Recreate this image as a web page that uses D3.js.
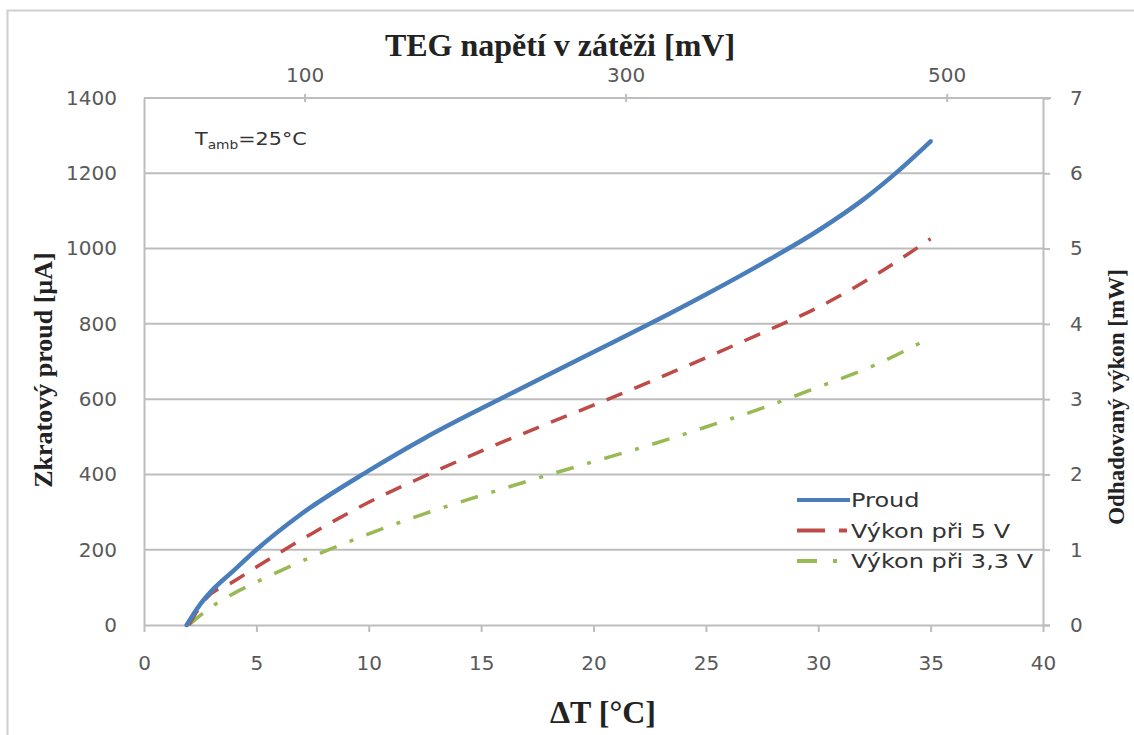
<!DOCTYPE html>
<html>
<head>
<meta charset="utf-8">
<script src="https://cdn.jsdelivr.net/npm/d3@7"></script>
<style>
    body { margin: 0; background: #fff; }
    .tick text { font-family: "DejaVu Sans", sans-serif; font-size: 20px; fill: #595959; }
    .axis-title { font-family: "Liberation Serif", "Times New Roman", serif; font-weight: bold; fill: #222; }
</style>
</head>
<body>
<div id="chart"></div>
<script>
/** * Data * * **/
const dTProud = [1.9, 2.5, 3, 4, 5, 7, 10, 12.5, 15, 17.5, 20, 22.5, 25, 27.5, 30, 32, 33.5, 35];
const proud = [0, 55, 90, 145, 200, 295, 410, 497, 575, 650, 725, 800, 878, 960, 1048, 1130, 1203, 1285];

const dTVykon5 = [2, 2.7, 4, 5, 7.5, 10, 12.5, 15, 17.5, 20, 22.5, 25, 27.5, 30, 32.5, 35];
const vykon5 = [0, 0.33, 0.58, 0.77, 1.22, 1.63, 1.98, 2.31, 2.62, 2.92, 3.23, 3.55, 3.88, 4.22, 4.64, 5.13];

const dTVykon33 = [2, 3, 4, 5, 7.5, 10, 12.5, 15, 17.5, 20, 22.5, 25, 27.5, 30, 32.5, 35];
const vykon33 = [0, 0.24, 0.42, 0.57, 0.91, 1.21, 1.48, 1.72, 1.95, 2.17, 2.39, 2.63, 2.88, 3.16, 3.45, 3.82];

const xTicks = [0, 5, 10, 15, 20, 25, 30, 35, 40];
const yLeftTicks = [0, 200, 400, 600, 800, 1000, 1200, 1400];
const yRightTicks = [0, 1, 2, 3, 4, 5, 6, 7];
const topTicks = [100, 300, 500];

const seriesNames = ["Proud", "Výkon při 5 V", "Výkon při 3,3 V"];

const width = 1134;
const height = 735;
const plot = { left: 144, right: 1043, top: 98, bottom: 625 };
const gridColor = "#bdbdbd";
const fmt = d3.format("d");

const svg = d3.select("#chart")
    .append("svg")
    .attr("width", width)
    .attr("height", height);

// outer frame (only top and left edges are inside the picture)
svg.append("rect")
    .attr("x", 7.5)
    .attr("y", 10.5)
    .attr("width", 1200)
    .attr("height", 800)
    .attr("fill", "none")
    .attr("stroke", "#cfcfcf")
    .attr("stroke-width", 2);

const x = d3.scaleLinear().domain([0, 40]).range([plot.left, plot.right]);
const xTop = d3.scaleLinear().domain([0, 560]).range([plot.left, plot.right]);
const yLeft = d3.scaleLinear().domain([0, 1400]).range([plot.bottom, plot.top]);
const yRight = d3.scaleLinear().domain([0, 7]).range([plot.bottom, plot.top]);

// horizontal grid
svg.append("g")
    .selectAll("line")
    .data(yLeftTicks.filter(d => d > 0))
    .join("line")
    .attr("x1", plot.left)
    .attr("x2", plot.right)
    .attr("y1", d => yLeft(d))
    .attr("y2", d => yLeft(d))
    .attr("stroke", gridColor)
    .attr("stroke-width", 2);

function styleAxis(g) {
    g.select(".domain").attr("stroke", gridColor).attr("stroke-width", 2);
    g.selectAll(".tick line").attr("stroke", gridColor).attr("stroke-width", 2);
}

svg.append("g")
    .attr("transform", `translate(${plot.left},0)`)
    .call(d3.axisLeft(yLeft).tickValues(yLeftTicks).tickFormat(fmt).tickSize(0).tickPadding(27))
    .call(styleAxis);

svg.append("g")
    .attr("transform", `translate(${plot.right},0)`)
    .call(d3.axisRight(yRight).tickValues(yRightTicks).tickFormat(fmt).tickSize(7).tickSizeOuter(7).tickPadding(20))
    .call(styleAxis);

svg.append("g")
    .attr("transform", `translate(0,${plot.bottom})`)
    .call(d3.axisBottom(x).tickValues(xTicks).tickFormat(fmt).tickSize(7).tickSizeOuter(0).tickPadding(24))
    .call(styleAxis);

const topAxis = svg.append("g")
    .attr("transform", `translate(0,${plot.top})`)
    .call(d3.axisTop(xTop).tickValues(topTicks).tickFormat(fmt).tickSize(4).tickSizeOuter(0).tickPadding(12))
    .call(styleAxis);
topAxis.select(".domain").attr("d", `M${plot.left},0H${plot.right + 8}`);
topAxis.selectAll(".tick line").attr("y2", 4).attr("y1", -4);

// series
const line = d3.line().curve(d3.curveMonotoneX);

svg.append("path")
    .attr("d", line(dTVykon33.map((d, i) => [x(d), yRight(vykon33[i])])))
    .attr("fill", "none")
    .attr("stroke", "#98b954")
    .attr("stroke-width", 3.5)
    .attr("stroke-dasharray", "18,14,4,14");

svg.append("path")
    .attr("d", line(dTVykon5.map((d, i) => [x(d), yRight(vykon5[i])])))
    .attr("fill", "none")
    .attr("stroke", "#be4b48")
    .attr("stroke-width", 3.5)
    .attr("stroke-dasharray", "17,13");

svg.append("path")
    .attr("d", line(dTProud.map((d, i) => [x(d), yLeft(proud[i])])))
    .attr("fill", "none")
    .attr("stroke", "#4a7ebb")
    .attr("stroke-width", 4.5)
    .attr("stroke-linecap", "round");

// legend
const legendStyles = [
    { color: "#4a7ebb", dash: null },
    { color: "#be4b48", dash: "28,14,8,100" },
    { color: "#98b954", dash: "20,16,4,100" }
];
const legend = svg.append("g").attr("transform", "translate(797,500)");
seriesNames.forEach((name, i) => {
    const row = legend.append("g").attr("transform", `translate(0,${i * 30.5})`);
    row.append("line")
        .attr("x1", 0)
        .attr("x2", 53)
        .attr("stroke", legendStyles[i].color)
        .attr("stroke-width", 4)
        .attr("stroke-dasharray", legendStyles[i].dash);
    row.append("text")
        .attr("transform", "translate(54,7) scale(1.2,1)")
        .attr("font-family", "DejaVu Sans, sans-serif")
        .attr("font-size", 20)
        .attr("fill", "#333")
        .text(name);
});

// annotation
const note = svg.append("text")
    .attr("transform", "translate(195,145) scale(1.15,1)")
    .attr("font-family", "DejaVu Sans, sans-serif")
    .attr("font-size", 18)
    .attr("fill", "#333");
note.append("tspan").text("T");
note.append("tspan").attr("font-size", 12).attr("dy", 4).text("amb");
note.append("tspan").attr("dy", -4).text("=25°C");

// axis titles
svg.append("text")
    .attr("class", "axis-title")
    .attr("x", 560)
    .attr("y", 56)
    .attr("text-anchor", "middle")
    .attr("font-size", 32)
    .text("TEG napětí v zátěži [mV]");

svg.append("text")
    .attr("class", "axis-title")
    .attr("transform", "translate(52,370) rotate(-90)")
    .attr("text-anchor", "middle")
    .attr("font-size", 26)
    .text("Zkratový proud [µA]");

svg.append("text")
    .attr("class", "axis-title")
    .attr("transform", "translate(1124,397) rotate(-90)")
    .attr("text-anchor", "middle")
    .attr("font-size", 23)
    .text("Odhadovaný výkon [mW]");

svg.append("text")
    .attr("class", "axis-title")
    .attr("x", 603)
    .attr("y", 723)
    .attr("text-anchor", "middle")
    .attr("font-size", 32)
    .text("ΔT [°C]");
</script>
</body>
</html>
